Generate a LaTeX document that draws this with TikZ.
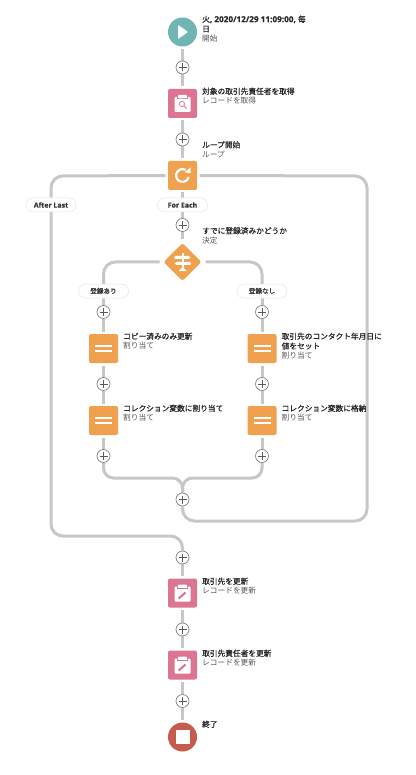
\documentclass[tikz,border=0pt]{standalone}
\usepackage{fontspec}
\setmainfont[BoldFont=Noto Sans CJK JP,BoldFeatures={FakeBold=0.6}]{Noto Sans CJK JP}
\newfontfamily\latf[FakeBold=0.4]{Open Sans}
\usetikzlibrary{shapes.geometric}
\pgfdeclarelayer{bg}\pgfsetlayers{bg,main}
\definecolor{linec}{HTML}{C9C7C5}
\definecolor{orangec}{HTML}{F0A150}
\definecolor{pinkc}{HTML}{DC7592}
\definecolor{tealc}{HTML}{70B5B3}
\definecolor{redc}{HTML}{C65B4D}
\definecolor{subc}{HTML}{555555}
\newcommand{\ttl}[1]{{\bfseries\color{black!85}#1}}
\newcommand{\subt}[1]{{\color{subc}#1}}
\newcommand{\clipb}{%
  \fill[white,rounded corners=1pt] (-8,-6.5) rectangle (8,8.5);
  \fill[pinkc] (-5.4,-6.5) rectangle (-4.4,-4.4);
  \fill[pinkc] (4.4,-6.5) rectangle (5.4,-4.4);
  \fill[pinkc] (-5.4,-5.2) rectangle (5.4,-4.4);
  \fill[white,rounded corners=.8pt] (-4.4,-8.5) rectangle (4.4,-5.2);
}
\tikzset{
  x=1pt,y=-1pt,
  conn/.style={draw=linec,line width=3pt,rounded corners=12pt},
  sq/.style={rectangle,rounded corners=2pt,minimum size=29pt,inner sep=0pt,outer sep=2.5pt,fill=#1},
  disc/.style={circle,minimum size=29pt,inner sep=0pt,outer sep=2.5pt,fill=#1},
  dia/.style={diamond,rounded corners=2pt,minimum size=40pt,inner sep=0pt,outer sep=3pt,fill=orangec},
  plusn/.style={circle,minimum size=13pt,inner sep=0pt,fill=white,draw=black!55,line width=.6pt,
    path picture={\draw[black!65,line width=.6pt]
      ([xshift=-4pt]path picture bounding box.center)--([xshift=4pt]path picture bounding box.center)
      ([yshift=-4pt]path picture bounding box.center)--([yshift=4pt]path picture bounding box.center);}},
  pill/.style={rectangle,rounded corners=7pt,minimum width=50pt,minimum height=14pt,inner sep=0pt,fill=white,draw=black!10,line width=.5pt,font=\fontsize{6.6pt}{8pt}\selectfont\bfseries,text=black!80},
  lbl/.style={anchor=north west,inner sep=0pt,align=left,font=\fontsize{7.7pt}{9.7pt}\selectfont},
}
\begin{document}
\begin{tikzpicture}
\useasboundingbox (0,0) rectangle (415,775);
\begin{pgfonlayer}{bg}
\path[fill=white] (0,0) rectangle (415,775);
\end{pgfonlayer}
% nodes
\node[disc=tealc] (start) at (182.5,32) {};
\node[plusn] (p1) at (182.5,67.5) {};
\node[sq=pinkc] (get) at (182.5,103.5) {};
\node[plusn] (p2) at (182.5,139.5) {};
\node[sq=orangec] (loop) at (182.5,175.5) {};
\node[pill] (fe) at (182.5,205) {\latf\fontsize{7pt}{8pt}\selectfont For Each};
\node[pill] (al) at (51,205) {\latf\fontsize{7pt}{8pt}\selectfont After Last};
\node[plusn] (p3) at (182.5,225) {};
\node[dia] (dec) at (182.5,262) {};
\node[pill] (yes) at (103.5,291) {登録あり};
\node[pill] (no) at (262,291) {登録なし};
\node[plusn] (pl1) at (103.5,312) {};
\node[plusn] (pr1) at (262,312) {};
\node[sq=orangec] (al1) at (103.5,348.5) {};
\node[sq=orangec] (ar1) at (262,348.5) {};
\node[plusn] (pl2) at (103.5,384) {};
\node[plusn] (pr2) at (262,384) {};
\node[sq=orangec] (al2) at (103.5,420.5) {};
\node[sq=orangec] (ar2) at (262,420.5) {};
\node[plusn] (pl3) at (103.5,456) {};
\node[plusn] (pr3) at (262,456) {};
\node[plusn] (pm) at (182.5,499.5) {};
\node[plusn] (p4) at (182.5,557.5) {};
\node[sq=pinkc] (up1) at (182.5,593) {};
\node[plusn] (p5) at (182.5,629.5) {};
\node[sq=pinkc] (up2) at (182.5,665) {};
\node[plusn] (p6) at (182.5,701) {};
\node[disc=redc] (stop) at (182.5,737) {};
% connectors
\begin{pgfonlayer}{bg}
\draw[conn] (start) -- (p1); \draw[conn] (p1) -- (get); \draw[conn] (get) -- (p2); \draw[conn] (p2) -- (loop);
\draw[conn] (loop) -- (fe); \draw[conn] (fe) -- (p3); \draw[conn] (p3) -- (dec);
\draw[conn] (dec.west) -- (103.5,262) -- (yes.north);
\draw[conn] (dec.east) -- (262,262) -- (no.north);
\draw[conn] (yes) -- (pl1); \draw[conn] (pl1) -- (al1); \draw[conn] (al1) -- (pl2); \draw[conn] (pl2) -- (al2); \draw[conn] (al2) -- (pl3);
\draw[conn] (no) -- (pr1); \draw[conn] (pr1) -- (ar1); \draw[conn] (ar1) -- (pr2); \draw[conn] (pr2) -- (ar2); \draw[conn] (ar2) -- (pr3);
\draw[conn,rounded corners=10pt] (pl3) -- (103.5,478) -- (182.5,478) -- (pm);
\draw[conn,rounded corners=10pt] (pr3) -- (262,478) -- (182.5,478) -- (pm);
\draw[conn] (pm) -- (182.5,521) -- (367,521) -- (367,176) -- (loop.east);
\draw[conn] (loop.west) -- (51,176) -- (al.north);
\draw[conn] (al.south) -- (51,536) -- (182.5,536) -- (p4);
\draw[conn] (p4) -- (up1); \draw[conn] (up1) -- (p5); \draw[conn] (p5) -- (up2); \draw[conn] (up2) -- (p6); \draw[conn] (p6) -- (stop);
\end{pgfonlayer}
% icons
\fill[white,rounded corners=.6pt] (178.2,25) -- (188,32) -- (178.2,39) -- cycle;
\fill[white] (175.5,730) rectangle (189.5,744);
\begin{scope}[shift={(182.5,103.5)}]
  \clipb
  \draw[pinkc,line width=.7pt] (-.5,.5) circle (2.6);
  \draw[pinkc,line width=.8pt] (1.4,2.4) -- (4,5);
\end{scope}
\begin{scope}[shift={(182.5,593)}]
  \clipb
  \draw[pinkc,line width=2.1pt] (-3.8,5.5) -- (3,-.5);
\end{scope}
\begin{scope}[shift={(182.5,665)}]
  \clipb
  \draw[pinkc,line width=2.1pt] (-3.8,5.5) -- (3,-.5);
\end{scope}
\begin{scope}[shift={(182.5,175.5)}]
  \draw[white,line width=2.2pt] (6.2,1.5) arc[start angle=14,end angle=300,x radius=6.4,y radius=6.4];
  \fill[white] (2.2,-3.2) -- (8.2,-8.2) -- (8.2,-2.2) -- cycle;
\end{scope}
\foreach \n/\cx/\cy in {a/103.5/348.5,b/262/348.5,c/103.5/420.5,d/262/420.5}{
  \fill[white] (\cx-8.5,\cy-3.8) rectangle (\cx+8.5,\cy-1.7);
  \fill[white] (\cx-8.5,\cy+1.7) rectangle (\cx+8.5,\cy+3.8);
}
\begin{scope}[shift={(182.5,262)}]
  \fill[white] (-1,-9) rectangle (1,8);
  \fill[white] (-8,-6) -- (6,-6) -- (8,-4.5) -- (6,-3) -- (-8,-3) -- cycle;
  \fill[white] (8,0) -- (-6,0) -- (-8,1.5) -- (-6,3) -- (8,3) -- cycle;
  \fill[white] (-4,9) -- (0,5) -- (4,9) -- cycle;
\end{scope}
% labels
\node[lbl] (t0) at (202,15.5) {\ttl{火{\latf\fontsize{8.2pt}{9.7pt}\selectfont, 2020/12/29 11:09:00, }毎}\\\ttl{日}\\\subt{開始}};
\node[lbl] (t1) at (202,87.5) {\ttl{対象の取引先責任者を取得}\\\subt{レコードを取得}};
\node[lbl] (t2) at (202,141) {\ttl{ループ開始}\\\subt{ループ}};
\node[lbl] (t3) at (202,227) {\ttl{すでに登録済みかどうか}\\\subt{決定}};
\node[lbl] (t4) at (123,332.5) {\ttl{コピー済みのみ更新}\\\subt{割り当て}};
\node[lbl] (t5) at (281.5,332.5) {\ttl{取引先のコンタクト年月日に}\\\ttl{値をセット}\\\subt{割り当て}};
\node[lbl] (t6) at (123,404.5) {\ttl{コレクション変数に割り当て}\\\subt{割り当て}};
\node[lbl] (t7) at (281.5,404.5) {\ttl{コレクション変数に格納}\\\subt{割り当て}};
\node[lbl] (t8) at (202,577.5) {\ttl{取引先を更新}\\\subt{レコードを更新}};
\node[lbl] (t9) at (202,649.5) {\ttl{取引先責任者を更新}\\\subt{レコードを更新}};
\node[lbl] (t10) at (202,720.5) {\ttl{終了}};
\end{tikzpicture}
\end{document}
